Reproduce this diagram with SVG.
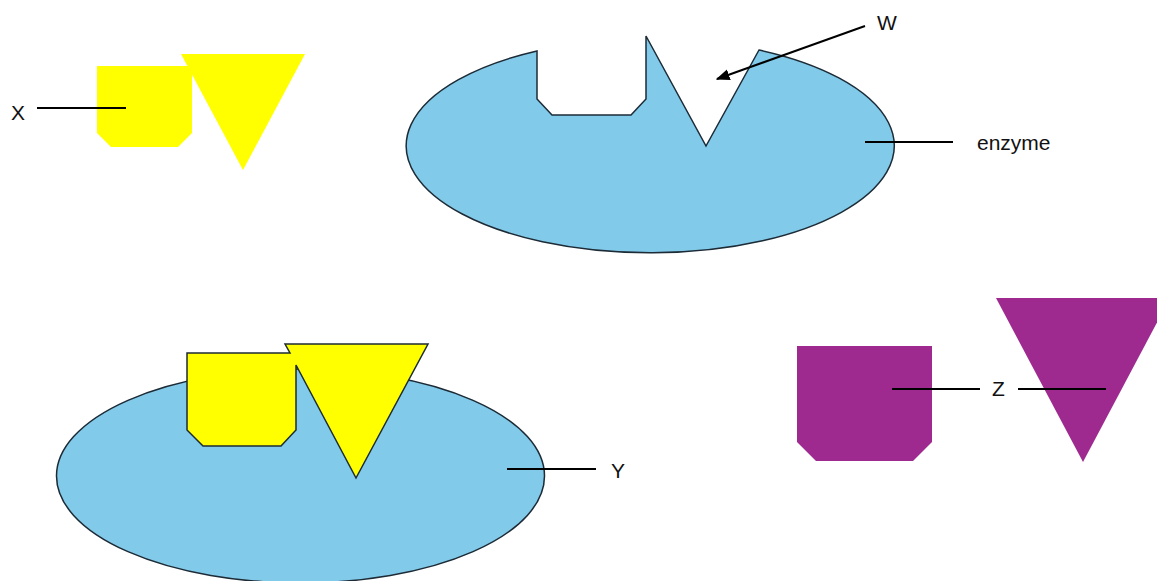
<svg xmlns="http://www.w3.org/2000/svg" width="1157" height="581" viewBox="0 0 1157 581">
<defs>
<style>
.lbl{font-family:"Liberation Sans",Arial,sans-serif;font-size:21px;fill:#111}
.ln{stroke:#000;stroke-width:2;fill:none}
.enz{fill:#82CAEA;stroke:#1c2b36;stroke-width:1.5}
.yel{fill:#FFFF00}
.pur{fill:#9E2A8F}
</style>
<marker id="ah" viewBox="0 0 10 10" refX="9" refY="5" markerWidth="7" markerHeight="7" orient="auto"><path d="M0,1 L10,5 L0,9 Z" fill="#000"/></marker>
</defs>
<rect width="1157" height="581" fill="#fff"/>
<g id="enzyme-top">
<path class="enz" d="M537,51 L537,99 L552,115 L631,115 L646,99 L646,36 L706,146 L759,50 A244,107 0 1,1 537,51 Z"/>
</g>
<g id="substrate-x">
<path class="yel" d="M97,66 L192,66 L192,133 L178,147 L111,147 L97,133 Z"/>
<path class="yel" d="M181,54 L305,54 L243,170 Z"/>
</g>
<g id="complex-y">
<ellipse class="enz" cx="300.5" cy="476" rx="244" ry="107"/>
<path class="yel" stroke="#1c2b36" stroke-width="1.5" d="M187,353 L290,353 L285,344 L428,344 L356,478 L296,365 L296,430 L281,446 L203,446 L187,430 Z"/>
</g>
<g id="products-z">
<path class="pur" d="M797,346 L932,346 L932,442 L913,461 L816,461 L797,442 Z"/>
<path class="pur" d="M996,298 L1170,298 L1083,462 Z"/>
</g>
<g id="connectors">
<line class="ln" x1="865" y1="26" x2="717" y2="79" marker-end="url(#ah)"/>
<line class="ln" x1="865" y1="142" x2="953" y2="142"/>
<line class="ln" x1="37" y1="108" x2="126" y2="108"/>
<line class="ln" x1="507" y1="469" x2="596" y2="469"/>
<line class="ln" x1="892" y1="389" x2="980" y2="389"/>
<line class="ln" x1="1018" y1="389" x2="1106" y2="389"/>
</g>
<g id="labels">
<text class="lbl" x="877" y="30">W</text>
<text class="lbl" x="977" y="150">enzyme</text>
<text class="lbl" x="11" y="120">X</text>
<text class="lbl" x="611" y="478">Y</text>
<text class="lbl" x="992" y="396">Z</text>
</g>
</svg>
